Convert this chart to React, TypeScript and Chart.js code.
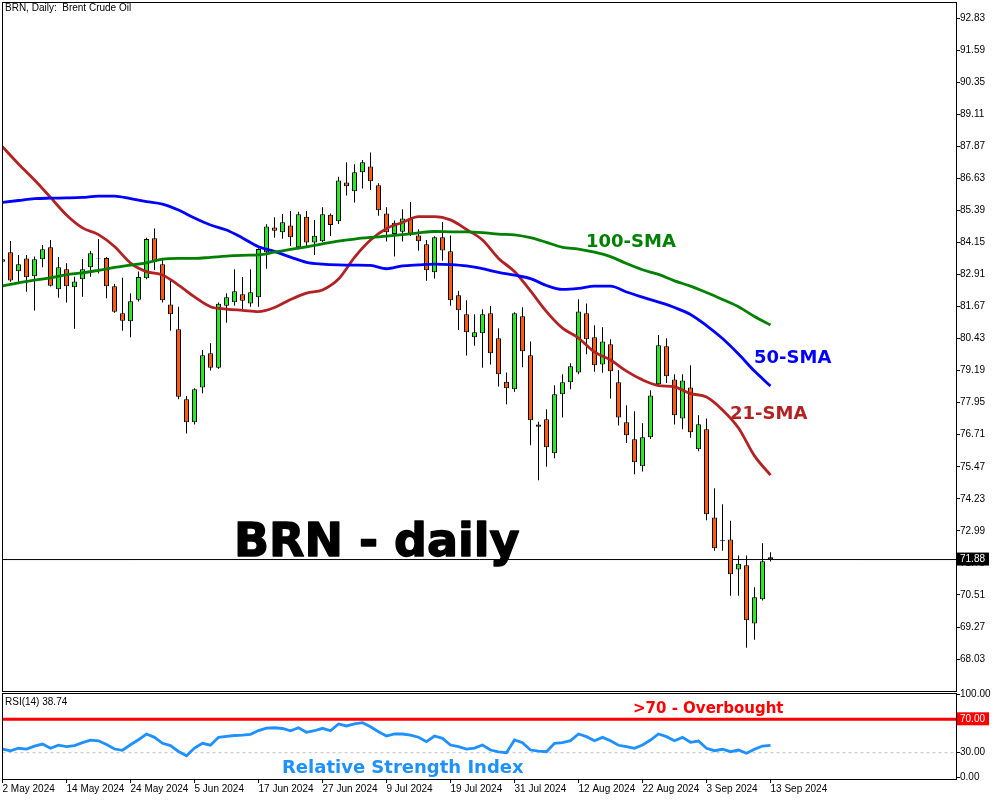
import React, { useEffect, useRef } from 'react';
import { Chart, registerables } from 'chart.js';

Chart.register(...registerables);

// ---------------- DATA ----------------
const opens = [83.40, 83.77, 83.03, 83.53, 82.84, 83.50, 83.96, 82.34, 83.11, 82.41, 82.72, 83.19, 83.53, 83.55, 82.45, 81.41, 81.10, 81.93, 82.76, 84.31, 83.30, 81.75, 80.79, 78.08, 77.19, 78.54, 79.86, 79.30, 81.70, 81.83, 82.14, 81.79, 82.03, 83.77, 84.73, 84.54, 84.80, 83.96, 85.14, 84.15, 84.19, 85.22, 84.97, 86.47, 86.13, 86.86, 87.09, 86.36, 85.27, 84.47, 84.56, 85.05, 84.42, 84.08, 82.99, 84.35, 83.81, 82.10, 81.37, 80.48, 80.63, 81.41, 80.44, 78.76, 78.47, 81.29, 79.78, 77.10, 77.31, 75.99, 78.27, 78.74, 79.12, 81.41, 80.48, 79.43, 80.21, 78.74, 77.19, 76.53, 75.49, 76.61, 78.66, 80.13, 78.85, 77.34, 78.54, 76.15, 76.92, 73.51, 72.63, 72.66, 71.50, 71.66, 69.41, 70.34, 71.97];
const highs = [83.60, 84.20, 83.66, 83.66, 83.60, 84.05, 84.24, 83.58, 83.34, 82.82, 83.51, 83.82, 84.28, 83.58, 82.54, 82.78, 82.18, 83.02, 84.33, 84.69, 83.47, 82.66, 81.66, 78.21, 78.51, 79.99, 80.25, 81.82, 82.18, 83.11, 82.81, 83.11, 83.92, 84.85, 85.12, 85.25, 85.36, 85.33, 85.36, 85.02, 85.51, 85.27, 86.69, 87.25, 87.17, 87.34, 87.63, 86.44, 85.51, 85.00, 85.43, 85.71, 84.66, 84.24, 84.39, 84.94, 84.42, 82.28, 81.91, 81.37, 81.56, 81.69, 80.83, 79.12, 81.45, 81.64, 80.32, 77.21, 77.69, 78.62, 79.05, 79.47, 81.95, 81.79, 80.94, 80.87, 80.40, 79.20, 77.85, 77.62, 77.15, 78.43, 80.57, 80.44, 79.05, 79.05, 79.40, 77.46, 77.34, 74.64, 74.02, 73.38, 72.04, 72.04, 70.81, 72.51, 72.16];
const lows = [83.30, 82.63, 82.63, 82.24, 81.51, 83.19, 82.44, 82.01, 81.82, 80.81, 82.05, 82.82, 82.95, 81.99, 81.43, 80.73, 80.48, 81.86, 82.72, 83.08, 81.82, 80.73, 78.08, 76.76, 77.10, 78.31, 79.19, 79.26, 81.04, 81.70, 81.56, 81.66, 81.66, 83.13, 84.33, 84.29, 84.01, 83.88, 83.98, 83.66, 84.16, 84.40, 84.86, 85.96, 85.69, 86.23, 86.18, 85.18, 84.18, 83.60, 84.18, 84.40, 83.83, 82.67, 82.75, 83.44, 81.70, 80.76, 79.77, 80.15, 79.30, 79.43, 78.57, 77.89, 78.37, 79.32, 76.30, 74.95, 75.47, 75.80, 77.38, 78.47, 79.05, 79.82, 79.15, 79.11, 78.11, 77.07, 76.39, 75.18, 75.29, 76.54, 78.57, 78.71, 77.10, 76.92, 76.59, 76.07, 73.40, 72.22, 72.22, 70.48, 70.48, 68.47, 68.78, 70.30, 71.80];
const closes = [83.50, 82.68, 83.30, 82.80, 83.50, 83.88, 82.47, 83.19, 82.45, 82.64, 83.11, 83.73, 83.51, 82.45, 81.47, 81.12, 81.87, 82.81, 84.28, 83.40, 81.91, 81.37, 78.18, 77.19, 78.47, 79.78, 79.30, 81.78, 82.03, 82.26, 81.89, 82.22, 83.89, 84.76, 84.60, 84.93, 84.35, 85.24, 84.15, 84.41, 85.24, 84.82, 86.54, 86.32, 86.86, 87.25, 86.51, 85.39, 84.54, 84.91, 85.07, 84.47, 84.19, 83.07, 84.35, 83.84, 81.91, 81.52, 80.67, 80.67, 81.37, 79.86, 79.05, 78.51, 81.41, 79.94, 77.27, 77.02, 76.22, 78.27, 78.74, 79.36, 81.48, 80.40, 79.40, 80.32, 79.16, 77.38, 76.69, 75.64, 76.61, 78.23, 80.17, 78.97, 77.46, 78.81, 76.80, 77.11, 73.63, 72.32, 72.59, 71.31, 71.72, 69.53, 70.42, 71.81, 71.88];

// bar positions (trading-day index) at which the moving averages were read
const smaIdx = [0, 2, 4, 6, 8, 10, 12, 14, 16, 18, 20, 22, 24, 26, 28, 30, 32, 34, 36, 38, 40, 42, 44, 46, 48, 50, 52, 54, 56, 58, 60, 62, 64, 66, 68, 70, 72, 74, 76, 78, 80, 82, 84, 86, 88, 90, 92, 94, 96];
const sma21 = [87.85, 87.18, 86.56, 85.89, 85.21, 84.71, 84.45, 83.99, 83.35, 83.02, 82.89, 82.50, 82.04, 81.66, 81.57, 81.52, 81.47, 81.63, 81.94, 82.19, 82.31, 82.73, 83.57, 84.24, 84.69, 84.92, 85.15, 85.15, 85.02, 84.65, 84.24, 83.53, 83.02, 82.27, 81.47, 80.83, 80.45, 79.91, 79.60, 79.17, 78.83, 78.61, 78.56, 78.30, 78.17, 77.67, 76.97, 75.89, 75.15];
const sma50 = [85.70, 85.77, 85.84, 85.86, 85.87, 85.89, 85.94, 85.94, 85.84, 85.73, 85.63, 85.40, 85.09, 84.82, 84.63, 84.32, 83.98, 83.80, 83.58, 83.38, 83.31, 83.28, 83.27, 83.26, 83.13, 83.24, 83.28, 83.31, 83.29, 83.24, 83.13, 82.99, 82.88, 82.75, 82.48, 82.33, 82.37, 82.46, 82.46, 82.23, 82.03, 81.84, 81.63, 81.36, 80.93, 80.43, 79.83, 79.17, 78.59];
const sma100 = [82.47, 82.58, 82.69, 82.78, 82.90, 82.97, 83.07, 83.18, 83.27, 83.36, 83.50, 83.53, 83.53, 83.57, 83.62, 83.65, 83.67, 83.77, 83.88, 83.98, 84.09, 84.20, 84.28, 84.34, 84.39, 84.45, 84.52, 84.57, 84.56, 84.56, 84.53, 84.47, 84.44, 84.33, 84.15, 83.96, 83.89, 83.77, 83.60, 83.33, 83.09, 82.91, 82.66, 82.46, 82.21, 81.94, 81.66, 81.28, 80.95];

const rsi14 = [34.4, 32.3, 35.3, 34.4, 37.8, 40.3, 35.3, 39.0, 37.2, 38.4, 42.0, 45.0, 44.2, 39.8, 34.4, 32.9, 39.5, 45.5, 52.4, 48.4, 41.3, 38.5, 31.5, 26.4, 35.5, 41.3, 39.0, 48.4, 49.6, 50.6, 51.0, 52.0, 56.5, 59.5, 59.9, 59.0, 56.3, 59.9, 54.4, 56.3, 59.2, 56.3, 64.4, 62.0, 64.4, 65.9, 61.1, 55.1, 50.0, 52.4, 52.4, 51.0, 48.5, 43.2, 50.0, 47.2, 39.2, 37.2, 34.4, 35.5, 39.2, 33.2, 31.0, 30.0, 45.2, 42.0, 33.2, 32.0, 31.2, 41.3, 42.0, 44.4, 52.4, 49.2, 44.4, 48.4, 44.4, 38.9, 37.2, 35.3, 39.2, 45.2, 52.4, 49.2, 44.4, 48.4, 42.5, 44.0, 35.3, 32.4, 34.1, 31.2, 33.2, 29.3, 34.1, 38.0, 38.74];

const dateTickIdx = [0, 8, 16, 24, 32, 40, 48, 56, 64, 72, 80, 88, 96];
const dateTickLabels = ['2 May 2024', '14 May 2024', '24 May 2024', '5 Jun 2024', '17 Jun 2024', '27 Jun 2024', '9 Jul 2024', '19 Jul 2024', '31 Jul 2024', '12 Aug 2024', '22 Aug 2024', '3 Sep 2024', '13 Sep 2024'];
const priceTicks = [92.83, 91.59, 90.35, 89.11, 87.87, 86.63, 85.39, 84.15, 82.91, 81.67, 80.43, 79.19, 77.95, 76.71, 75.47, 74.23, 72.99, 71.75, 70.51, 69.27, 68.03];
const rsiTicks = [100, 70, 30, 0];
const rsiOverbought = 70;
const rsiOversold = 30;

// ---------------- STYLE / LAYOUT ----------------
const X_MIN = 0;
const X_MAX = 119.1875;
const Y_MIN = 66.795;
const Y_MAX = 93.449;
const RSI_MIN = -1.5;
const RSI_MAX = 100.9;
const BULL = '#22ec22';
const BEAR = '#ff5a0a';
const SMALL_FONT = { family: '"Liberation Sans", Arial, sans-serif', size: 10 };
const lastPrice = closes[closes.length - 1];

function drawFrame(chart: any) {
  const { ctx, chartArea: a } = chart;
  const l = Math.floor(a.left) + 0.5;
  const t = Math.floor(a.top) + 0.5;
  const r = Math.floor(a.right) + 0.5;
  const b = Math.floor(a.bottom) + 0.5;
  ctx.save();
  ctx.strokeStyle = '#000';
  ctx.lineWidth = 1;
  ctx.strokeRect(l, t, r - l, b - t);
  ctx.restore();
}

function drawText(ctx: CanvasRenderingContext2D, text: string, x: number, y: number, font: string, color: string, stroke = 0) {
  ctx.save();
  ctx.font = font;
  ctx.fillStyle = color;
  ctx.textBaseline = 'alphabetic';
  ctx.textAlign = 'left';
  ctx.fillText(text, x, y);
  if (stroke > 0) {
    ctx.strokeStyle = color;
    ctx.lineWidth = stroke;
    ctx.lineJoin = 'round';
    ctx.strokeText(text, x, y);
  }
  ctx.restore();
}

const mainPlugin = {
  id: 'mainDecor',
  afterDraw(chart: any) {
    drawFrame(chart);
    const ctx = chart.ctx as CanvasRenderingContext2D;
    drawText(ctx, 'BRN, Daily:  Brent Crude Oil', 5, 11, '10px "Liberation Sans", Arial, sans-serif', '#000');
    drawText(ctx, 'BRN - daily', 234, 556, 'bold 46px "DejaVu Sans", sans-serif', '#000', 1.4);
    drawText(ctx, '100-SMA', 586, 247, 'bold 18px "DejaVu Sans", sans-serif', '#008000');
    drawText(ctx, '50-SMA', 754, 363, 'bold 18px "DejaVu Sans", sans-serif', '#0000ff');
    drawText(ctx, '21-SMA', 730, 419, 'bold 18px "DejaVu Sans", sans-serif', '#b22222');
  },
};

const rsiPlugin = {
  id: 'rsiDecor',
  afterDraw(chart: any) {
    drawFrame(chart);
    const ctx = chart.ctx as CanvasRenderingContext2D;
    drawText(ctx, 'RSI(14) ' + rsi14[rsi14.length - 1].toFixed(2), 5, 25, '10px "Liberation Sans", Arial, sans-serif', '#000');
    drawText(ctx, '>70 - Overbought', 633, 33, 'bold 15px "DejaVu Sans", sans-serif', '#ff0000');
    drawText(ctx, 'Relative Strength Index', 282, 93, 'bold 18px "DejaVu Sans", sans-serif', '#1e90ff');
  },
};

export default function App() {
  const refA = useRef<HTMLCanvasElement>(null);
  const refB = useRef<HTMLCanvasElement>(null);

  useEffect(() => {
    const bodies = opens.map((o, i) => ({ x: i, y: [o, closes[i]] }));
    const bodyColors = opens.map((o, i) => (closes[i] >= o ? BULL : BEAR));
    const wicks = lows.map((l, i) => ({ x: i, y: [l, highs[i]] }));
    const line = (vals: number[], color: string) => ({
      type: 'line' as const,
      data: smaIdx.map((x, k) => ({ x, y: vals[k] })),
      borderColor: color,
      borderWidth: 2.8,
      pointRadius: 0,
      cubicInterpolationMode: 'monotone' as const,
      fill: false,
      order: -1,
    });

    const chartA = new Chart(refA.current as HTMLCanvasElement, {
      type: 'bar',
      data: {
        datasets: [
          line(sma100, '#008000'),
          line(sma50, '#0000ff'),
          line(sma21, '#b22222'),
          {
            type: 'line',
            data: [{ x: X_MIN, y: lastPrice }, { x: X_MAX, y: lastPrice }],
            borderColor: '#000',
            borderWidth: 1,
            pointRadius: 0,
            order: 3,
          } as any,
          {
            type: 'bar',
            data: bodies as any,
            backgroundColor: bodyColors,
            borderColor: '#000',
            borderWidth: 1,
            borderSkipped: false,
            barThickness: 5,
            grouped: false,
            inflateAmount: 0,
            order: 1,
          } as any,
          {
            type: 'bar',
            data: wicks as any,
            backgroundColor: '#000',
            borderWidth: 0,
            barThickness: 1,
            grouped: false,
            inflateAmount: 0,
            order: 2,
          } as any,
        ],
      },
      options: {
        responsive: false,
        animation: false,
        devicePixelRatio: 1,
        events: [],
        layout: { padding: { left: 2.5, top: 2, right: 0, bottom: 1 } },
        plugins: { legend: { display: false }, tooltip: { enabled: false } },
        scales: {
          x: { type: 'linear', min: X_MIN, max: X_MAX, display: false, offset: false },
          y: {
            type: 'linear',
            position: 'right',
            min: Y_MIN,
            max: Y_MAX,
            afterBuildTicks: (s: any) => {
              s.ticks = [...priceTicks, lastPrice].map((v) => ({ value: v }));
            },
            afterFit: (s: any) => {
              s.width = 44;
              s.paddingTop = 0;
              s.paddingBottom = 0;
            },
            border: { display: false },
            grid: {
              drawOnChartArea: false,
              drawTicks: true,
              tickLength: 4,
              lineWidth: 1,
              color: (c: any) => (c.tick && c.tick.value === lastPrice ? 'rgba(0,0,0,0)' : '#000'),
            },
            ticks: {
              autoSkip: false,
              padding: 0,
              font: SMALL_FONT,
              color: (c: any) => (c.tick && c.tick.value === lastPrice ? '#fff' : '#000'),
              showLabelBackdrop: (c: any) => !!(c.tick && c.tick.value === lastPrice),
              backdropColor: '#000',
              backdropPadding: { left: 3, right: 4, top: 1, bottom: 0 },
              callback: (v: any) => Number(v).toFixed(2),
            },
          } as any,
        },
      },
      plugins: [mainPlugin],
    } as any);

    const chartB = new Chart(refB.current as HTMLCanvasElement, {
      type: 'line',
      data: {
        datasets: [
          {
            data: rsi14.map((y, i) => ({ x: i, y })),
            borderColor: '#1e90ff',
            borderWidth: 2.8,
            pointRadius: 0,
            fill: false,
            order: 0,
          },
          {
            data: [{ x: X_MIN, y: rsiOverbought }, { x: X_MAX, y: rsiOverbought }],
            borderColor: '#ff0000',
            borderWidth: 3,
            pointRadius: 0,
            order: 1,
          },
          {
            data: [{ x: X_MIN, y: rsiOversold }, { x: X_MAX, y: rsiOversold }],
            borderColor: '#c0c0c0',
            borderWidth: 1,
            borderDash: [3, 3],
            pointRadius: 0,
            order: 2,
          },
        ] as any,
      },
      options: {
        responsive: false,
        animation: false,
        devicePixelRatio: 1,
        events: [],
        layout: { padding: { left: 2.5, top: 13.5, right: 0, bottom: 0 } },
        plugins: { legend: { display: false }, tooltip: { enabled: false } },
        scales: {
          x: {
            type: 'linear',
            position: 'bottom',
            min: X_MIN,
            max: X_MAX,
            offset: false,
            afterBuildTicks: (s: any) => {
              s.ticks = dateTickIdx.map((v) => ({ value: v }));
            },
            afterFit: (s: any) => {
              s.height = 21;
              s.paddingLeft = 0;
              s.paddingRight = 0;
            },
            border: { display: false },
            grid: { drawOnChartArea: false, drawTicks: true, tickLength: 4, color: '#000', lineWidth: 1 },
            ticks: {
              autoSkip: false,
              maxRotation: 0,
              minRotation: 0,
              align: 'start',
              padding: 0,
              font: SMALL_FONT,
              color: '#000',
              callback: (v: any) => {
                const k = dateTickIdx.indexOf(Number(v));
                return k >= 0 ? dateTickLabels[k] : '';
              },
            },
          } as any,
          y: {
            type: 'linear',
            position: 'right',
            min: RSI_MIN,
            max: RSI_MAX,
            afterBuildTicks: (s: any) => {
              s.ticks = rsiTicks.map((v) => ({ value: v }));
            },
            afterFit: (s: any) => {
              s.width = 44;
              s.paddingTop = 0;
              s.paddingBottom = 0;
            },
            border: { display: false },
            grid: { drawOnChartArea: false, drawTicks: true, tickLength: 4, color: '#000', lineWidth: 1 },
            ticks: {
              autoSkip: false,
              padding: 0,
              font: SMALL_FONT,
              color: (c: any) => (c.tick && c.tick.value === rsiOverbought ? '#fff' : '#000'),
              showLabelBackdrop: (c: any) => !!(c.tick && c.tick.value === rsiOverbought),
              backdropColor: '#ff0000',
              backdropPadding: { left: 3, right: 4, top: 1, bottom: 0 },
              callback: (v: any) => Number(v).toFixed(2),
            },
          } as any,
        },
      },
      plugins: [rsiPlugin],
    } as any);

    return () => {
      chartA.destroy();
      chartB.destroy();
    };
  }, []);

  return (
    <div style={{ position: 'fixed', left: 0, top: 0, width: 1000, height: 800, background: '#fff', overflow: 'hidden' }}>
      <canvas ref={refA} width={1000} height={692} style={{ position: 'absolute', left: 0, top: 0 }} />
      <canvas ref={refB} width={1000} height={120} style={{ position: 'absolute', left: 0, top: 680 }} />
    </div>
  );
}
